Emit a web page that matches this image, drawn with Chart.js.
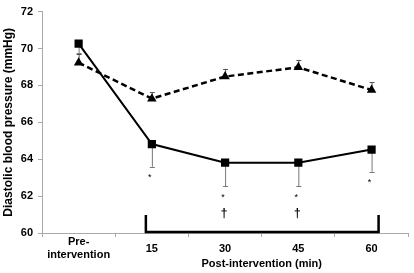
<!DOCTYPE html>
<html>
<head>
<meta charset="utf-8">
<script src="https://cdn.jsdelivr.net/npm/chart.js@4"></script>
<style>
html,body{margin:0;padding:0;background:#fff;}
#wrap{width:414px;height:273px;position:relative;}
</style>
</head>
<body>
<div id="wrap"><canvas id="c" width="414" height="273"></canvas></div>
<script>
const categories = [['Pre-', 'intervention'], '15', '30', '45', '60'];
const squareValues = [70.26, 64.82, 63.81, 63.81, 64.52];
const squareErrors = [0.5, 1.23, 1.28, 1.28, 1.2];
const triangleValues = [69.23, 67.28, 68.48, 68.98, 67.75];
const triangleErrors = [0.45, 0.35, 0.42, 0.41, 0.43];
const starMarks = ['', '*', '*', '*', '*'];
const daggerMarks = ['', '', '\u2020', '\u2020', ''];
const yTicks = [60, 62, 64, 66, 68, 70, 72];
const xTitle = 'Post-intervention (min)';
const yTitle = 'Diastolic blood pressure (mmHg)';
const FONT = 'Arial, "Liberation Sans", sans-serif';

const extras = {
  id: 'extras',
  beforeDatasetsDraw(chart) {
    const ctx = chart.ctx, x = chart.scales.x, y = chart.scales.y;
    ctx.save();
    ctx.lineWidth = 1;
    ctx.strokeStyle = '#777';
    squareValues.forEach((v, i) => {
      const px = x.getPixelForValue(i);
      const y0 = y.getPixelForValue(v), y1 = y.getPixelForValue(v - squareErrors[i]);
      ctx.beginPath();
      ctx.moveTo(px + 0.5, y0); ctx.lineTo(px + 0.5, y1);
      ctx.moveTo(px - 2, Math.round(y1) + 0.5); ctx.lineTo(px + 3, Math.round(y1) + 0.5);
      ctx.stroke();
    });
    ctx.strokeStyle = '#555';
    triangleValues.forEach((v, i) => {
      const px = x.getPixelForValue(i);
      const y0 = y.getPixelForValue(v), y1 = y.getPixelForValue(v + triangleErrors[i]);
      ctx.beginPath();
      ctx.moveTo(px + 0.5, y0); ctx.lineTo(px + 0.5, y1);
      ctx.moveTo(px - 2, Math.round(y1) + 0.5); ctx.lineTo(px + 3, Math.round(y1) + 0.5);
      ctx.stroke();
    });
    ctx.restore();
  },
  afterDraw(chart) {
    const ctx = chart.ctx, x = chart.scales.x, y = chart.scales.y;
    ctx.save();
    ctx.fillStyle = '#000';
    ctx.textAlign = 'center';
    ctx.textBaseline = 'middle';
    squareValues.forEach((v, i) => {
      const px = x.getPixelForValue(i);
      const yEnd = y.getPixelForValue(v - squareErrors[i]);
      if (starMarks[i]) {
        ctx.font = '9px ' + FONT;
        ctx.fillText(starMarks[i], px - 2, yEnd + 11);
      }
      if (daggerMarks[i]) {
        ctx.font = 'bold 12px ' + FONT;
        ctx.fillText(daggerMarks[i], px - 1, yEnd + 27);
      }
    });
    const bx0 = x.getPixelForValue(1) - 6, bx1 = x.getPixelForValue(4) + 7;
    const by = y.getPixelForValue(60) - 1;
    ctx.strokeStyle = '#000';
    ctx.lineWidth = 2.5;
    ctx.lineCap = 'butt';
    ctx.beginPath();
    ctx.moveTo(bx0, by - 17); ctx.lineTo(bx0, by); ctx.lineTo(bx1, by); ctx.lineTo(bx1, by - 17);
    ctx.stroke();
    ctx.font = 'bold 11px ' + FONT;
    ctx.fillText(xTitle, (x.getPixelForValue(1) + x.getPixelForValue(4)) / 2, 264);
    ctx.restore();
  }
};

new Chart(document.getElementById('c'), {
  type: 'line',
  data: {
    labels: categories,
    datasets: [
      {
        data: squareValues,
        borderColor: '#000', backgroundColor: '#000',
        borderWidth: 2, pointStyle: 'rect', pointRadius: 5.8,
        pointBorderWidth: 0, tension: 0
      },
      {
        data: triangleValues,
        borderColor: '#000', backgroundColor: '#000',
        borderWidth: 2.5, borderDash: [6, 3.5], pointStyle: 'triangle', pointRadius: 5.5,
        pointBorderWidth: 0, tension: 0
      }
    ]
  },
  options: {
    responsive: false, animation: false, devicePixelRatio: 1,
    layout: { padding: { top: 5, right: 0, bottom: 0, left: 0 } },
    plugins: { legend: { display: false }, tooltip: { enabled: false } },
    scales: {
      x: {
        offset: true,
        grid: { offset: true, drawOnChartArea: false, drawTicks: true, tickLength: 4, color: '#aaa' },
        border: { color: '#aaa' },
        ticks: { color: '#000', font: { family: FONT, size: 11, weight: 'bold' }, padding: 5, crossAlign: 'center', maxRotation: 0, autoSkip: false },
        afterFit(s) { s.height = 40; }
      },
      y: {
        min: 60, max: 72,
        afterBuildTicks(s) { s.ticks = yTicks.map(v => ({ value: v })); },
        grid: { drawOnChartArea: false, drawTicks: true, tickLength: 4, color: '#aaa' },
        border: { color: '#aaa' },
        ticks: { color: '#000', font: { family: FONT, size: 11, weight: 'bold' }, padding: 5 },
        title: { display: true, text: yTitle, color: '#000', font: { family: FONT, size: 12, weight: 'bold' }, padding: { top: 1, bottom: 0 } },
        afterFit(s) { s.width = 42; }
      }
    }
  },
  plugins: [extras]
});
</script>
</body>
</html>
